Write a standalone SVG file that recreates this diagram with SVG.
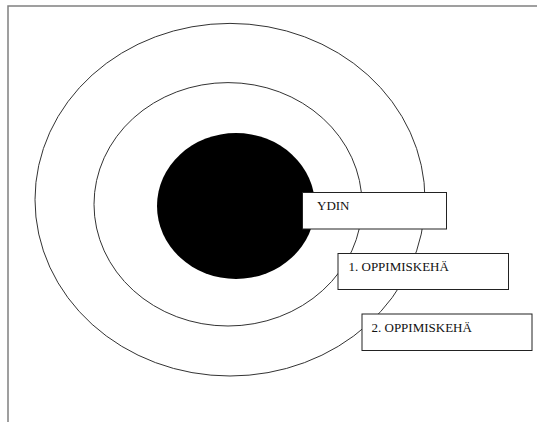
<svg xmlns="http://www.w3.org/2000/svg" width="537" height="422" viewBox="0 0 537 422">
<style>
.ring{fill:none;stroke:#333;stroke-width:1}
.box{fill:#fff;stroke:#222;stroke-width:1}
.lbl{font-family:"Liberation Serif","Times New Roman",serif;font-size:13px;fill:#111}
.frame{stroke:#808080;stroke-width:1.5;fill:none}
</style>
<rect width="537" height="422" fill="#fff"/>
<g id="frame">
<path class="frame" d="M8,422 V6 H537"/>
</g>
<g id="ring2"><ellipse class="ring" cx="230" cy="199.7" rx="195" ry="176.3"/></g>
<g id="ring1"><ellipse class="ring" cx="228" cy="204.3" rx="134" ry="121.7"/></g>
<g id="core"><ellipse cx="236" cy="206" rx="79" ry="73" fill="#000"/></g>
<g id="connectors"></g>
<g id="label-ydin">
<rect class="box" x="302.5" y="192.5" width="144" height="36.5"/>
<text class="lbl" x="317" y="210">YDIN</text>
</g>
<g id="label-1">
<rect class="box" x="338" y="253.5" width="170.5" height="36"/>
<text class="lbl" x="348.5" y="271">1. OPPIMISKEHÄ</text>
</g>
<g id="label-2">
<rect class="box" x="362" y="314" width="170" height="36.5"/>
<text class="lbl" x="371.5" y="331.5">2. OPPIMISKEHÄ</text>
</g>
</svg>
